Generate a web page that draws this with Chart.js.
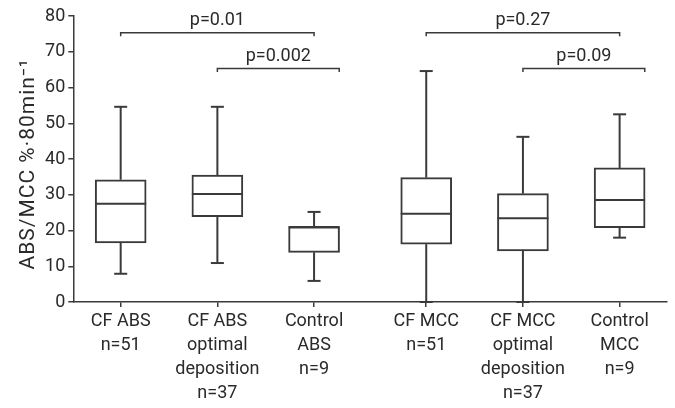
<!DOCTYPE html>
<html><head><meta charset="utf-8">
<script src="https://cdn.jsdelivr.net/npm/chart.js@4/dist/chart.umd.min.js"></script>
<style>html,body{margin:0;padding:0;background:#fff}#wrap{width:675px;height:408px}</style>
</head><body><div id="wrap"><canvas id="c" width="675" height="408"></canvas></div>
<script>
const categories = [["CF ABS","n=51"],["CF ABS","optimal","deposition","n=37"],["Control","ABS","n=9"],["CF MCC","n=51"],["CF MCC","optimal","deposition","n=37"],["Control","MCC","n=9"]];
const positions = [1, 2, 3, 4.16, 5.16, 6.16];
const whiskerLow = [7.9, 10.9, 5.9, 0, 0, 18.0];
const q1 = [16.5, 23.9, 13.9, 16.2, 14.3, 20.8];
const median = [27.5, 30.2, 21.0, 24.7, 23.4, 28.5];
const q3 = [34.2, 35.5, 21.0, 34.8, 30.3, 37.5];
const whiskerHigh = [54.6, 54.6, 25.2, 64.6, 46.2, 52.5];
const yTicks = [0, 10, 20, 30, 40, 50, 60, 70, 80];
const yTitle = 'ABS/MCC %·80min⁻¹';
const bracketStart = [1, 2, 4.16, 5.16];
const bracketEnd = [3, 3.26, 6.16, 6.42];
const bracketY = [75.3, 65.3, 75.3, 65.3];
const bracketLabels = ["p=0.01", "p=0.002", "p=0.27", "p=0.09"];

const LINE = '#3a3a3a';
const TEXT = '#2a2a2a';
const FONT = 'Roboto';

const boxPlugin = {
  id: 'boxExtras',
  afterDatasetsDraw(chart) {
    const ctx = chart.ctx, x = chart.scales.x, y = chart.scales.y;
    const bar = chart.getDatasetMeta(0).data[0];
    const half = bar.width / 2;
    const cap = 6.5;
    ctx.save();
    ctx.strokeStyle = LINE;
    ctx.lineWidth = 2;
    ctx.lineCap = 'butt';
    const line = (x1, y1, x2, y2) => { ctx.beginPath(); ctx.moveTo(x1, y1); ctx.lineTo(x2, y2); ctx.stroke(); };
    positions.forEach((p, i) => {
      const px = x.getPixelForValue(p);
      const yHi = y.getPixelForValue(whiskerHigh[i]);
      const yLo = y.getPixelForValue(whiskerLow[i]);
      line(px, y.getPixelForValue(q3[i]), px, yHi);
      line(px, y.getPixelForValue(q1[i]), px, yLo);
      line(px - cap, yHi, px + cap, yHi);
      line(px - cap, yLo, px + cap, yLo);
      const ym = y.getPixelForValue(median[i]);
      line(px - half, ym, px + half, ym);
    });
    ctx.lineWidth = 1.5;
    ctx.font = '18px ' + FONT;
    ctx.fillStyle = TEXT;
    ctx.textAlign = 'center';
    ctx.textBaseline = 'alphabetic';
    bracketStart.forEach((s, i) => {
      const x1 = x.getPixelForValue(s), x2 = x.getPixelForValue(bracketEnd[i]);
      const by = y.getPixelForValue(bracketY[i]);
      ctx.beginPath();
      ctx.moveTo(x1, by + 3.5); ctx.lineTo(x1, by); ctx.lineTo(x2, by); ctx.lineTo(x2, by + 3.5);
      ctx.stroke();
      ctx.fillText(bracketLabels[i], (x1 + x2) / 2, by - 8);
    });
    // y axis title
    ctx.translate(29, (y.top + y.bottom) / 2 + 5);
    ctx.rotate(-Math.PI / 2);
    ctx.font = '21px ' + FONT;
    if ('letterSpacing' in ctx) ctx.letterSpacing = '1px';
    ctx.textBaseline = 'middle';
    ctx.fillText(yTitle, 0, 0);
    ctx.restore();
  }
};

new Chart(document.getElementById('c'), {
  type: 'bar',
  data: {
    datasets: [{
      data: positions.map((p, i) => ({ x: p, y: [q1[i], q3[i]] })),
      backgroundColor: '#ffffff',
      borderColor: LINE,
      borderWidth: 2,
      borderSkipped: false,
      barThickness: 51
    }]
  },
  options: {
    responsive: false,
    animation: false,
    devicePixelRatio: 1,
    layout: { padding: { top: 16, right: 8, left: 0, bottom: 0 } },
    plugins: { legend: { display: false }, tooltip: { enabled: false } },
    scales: {
      x: {
        type: 'linear',
        offset: false,
        min: 0.51, max: 6.65,
        afterBuildTicks: s => { s.ticks = positions.map(v => ({ value: v })); },
        afterFit: s => { s.height = 106; },
        ticks: {
          autoSkip: false, maxRotation: 0, minRotation: 0,
          color: TEXT, padding: 3,
          font: { family: FONT, size: 18, lineHeight: 1.33 },
          callback: (v, i) => categories[i]
        },
        grid: { offset: false, drawOnChartArea: false, tickLength: 5, color: LINE, lineWidth: 1.5 },
        border: { color: LINE, width: 1.5 }
      },
      y: {
        min: 0, max: 80,
        afterBuildTicks: s => { s.ticks = yTicks.map(v => ({ value: v })); },
        afterFit: s => { s.width = 73.3; },
        ticks: { color: TEXT, padding: 3, font: { family: FONT, size: 18 } },
        grid: { drawOnChartArea: false, tickLength: 5, color: LINE, lineWidth: 1.5 },
        border: { color: LINE, width: 1.5 }
      }
    }
  },
  plugins: [boxPlugin]
});
</script>
</body></html>
